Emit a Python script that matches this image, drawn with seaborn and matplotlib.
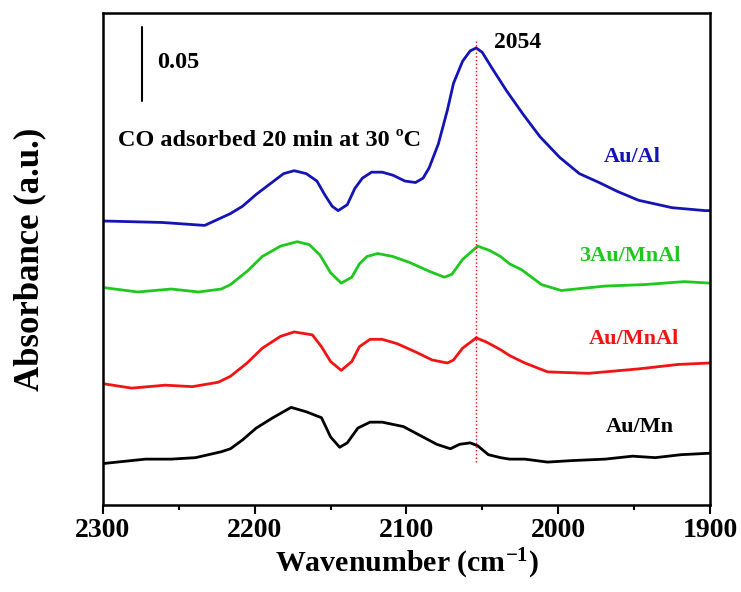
import numpy as np
import pandas as pd
import seaborn as sns
import matplotlib
matplotlib.use("Agg")
import matplotlib.pyplot as plt
from matplotlib.ticker import MultipleLocator

# Spectra (wavenumber in cm-1, absorbance incl. stacking offset)
wn_al = [2300, 2261, 2233, 2216, 2208, 2199, 2190, 2181, 2174, 2166, 2159, 2154, 2149,
         2145, 2139, 2134, 2129, 2123, 2116, 2109, 2101, 2094, 2089, 2085, 2079, 2073,
         2069, 2063, 2058, 2054, 2050, 2044, 2034, 2023, 2012, 1999, 1986, 1973, 1961,
         1947, 1925, 1903, 1900]
abs_al = [0.192, 0.191, 0.189, 0.197, 0.202, 0.210, 0.217, 0.224, 0.226, 0.224, 0.219,
          0.210, 0.202, 0.199, 0.203, 0.214, 0.221, 0.225, 0.225, 0.223, 0.219, 0.218,
          0.221, 0.228, 0.244, 0.267, 0.285, 0.300, 0.307, 0.309, 0.306, 0.296, 0.280,
          0.264, 0.249, 0.235, 0.224, 0.218, 0.212, 0.206, 0.201, 0.199, 0.199]

wn_3mnal = [2300, 2277, 2255, 2237, 2222, 2216, 2205, 2195, 2183, 2172, 2164, 2157, 2150,
            2143, 2136, 2131, 2126, 2119, 2109, 2098, 2085, 2075, 2070, 2063, 2053, 2045,
            2038, 2032, 2024, 2011, 1998, 1969, 1943, 1917, 1900]
abs_3mnal = [0.147, 0.144, 0.146, 0.144, 0.146, 0.149, 0.158, 0.168, 0.175, 0.178, 0.176,
             0.169, 0.157, 0.150, 0.154, 0.163, 0.168, 0.170, 0.168, 0.164, 0.158, 0.154,
             0.156, 0.166, 0.175, 0.172, 0.168, 0.163, 0.159, 0.149, 0.145, 0.148, 0.149,
             0.151, 0.150]

wn_mnal = [2300, 2281, 2259, 2241, 2224, 2216, 2205, 2195, 2183, 2174, 2162, 2156, 2150,
           2143, 2136, 2131, 2124, 2116, 2106, 2093, 2083, 2073, 2069, 2063, 2054, 2047,
           2038, 2032, 2022, 2007, 1980, 1947, 1921, 1900]
abs_mnal = [0.082, 0.079, 0.081, 0.080, 0.083, 0.087, 0.096, 0.106, 0.114, 0.117, 0.115,
            0.107, 0.097, 0.091, 0.097, 0.107, 0.112, 0.112, 0.109, 0.103, 0.098, 0.096,
            0.098, 0.106, 0.113, 0.110, 0.105, 0.101, 0.096, 0.090, 0.089, 0.092, 0.095,
            0.096]

wn_mn = [2300, 2272, 2255, 2239, 2222, 2216, 2208, 2199, 2188, 2176, 2166, 2156, 2150,
         2144, 2139, 2132, 2124, 2116, 2102, 2091, 2080, 2071, 2065, 2058, 2053, 2046,
         2038, 2032, 2022, 2007, 1991, 1969, 1951, 1936, 1919, 1900]
abs_mn = [0.028, 0.031, 0.031, 0.032, 0.036, 0.038, 0.044, 0.052, 0.059, 0.066, 0.063,
          0.059, 0.046, 0.039, 0.042, 0.052, 0.056, 0.056, 0.053, 0.047, 0.041, 0.038,
          0.041, 0.042, 0.040, 0.034, 0.032, 0.031, 0.031, 0.029, 0.030, 0.031, 0.033,
          0.032, 0.034, 0.035]

samples = ["Au/Al", "3Au/MnAl", "Au/MnAl", "Au/Mn"]
colors = ["#1414b4", "#1ec81e", "#f01414", "#000000"]
label_pos = [(1951, 0.235), (1953, 0.168), (1950, 0.112), (1946, 0.053)]
peak_wn = 2054

sns.set_style("white")
plt.rcParams["font.family"] = ["Liberation Serif", "DejaVu Serif"]
plt.rcParams["font.weight"] = "bold"
plt.rcParams["text.color"] = "black"
plt.rcParams["axes.labelcolor"] = "black"
plt.rcParams["xtick.color"] = "black"
plt.rcParams["mathtext.fontset"] = "custom"
plt.rcParams["mathtext.rm"] = "Liberation Serif:bold"
plt.rcParams["mathtext.bf"] = "Liberation Serif:bold"
plt.rcParams["mathtext.default"] = "bf"

frames = []
for name, wn, ab in [(samples[0], wn_al, abs_al), (samples[1], wn_3mnal, abs_3mnal),
                     (samples[2], wn_mnal, abs_mnal), (samples[3], wn_mn, abs_mn)]:
    frames.append(pd.DataFrame({"wn": wn, "abs": ab, "sample": name}))
df = pd.concat(frames, ignore_index=True)

fig = plt.figure(figsize=(7.41, 5.92), dpi=100)
ax = fig.add_axes([0.139, 0.147, 0.819, 0.831])

sns.lineplot(data=df, x="wn", y="abs", hue="sample", hue_order=samples,
             palette=colors, linewidth=2.0, legend=False, ax=ax, sort=False)

ax.set_xlim(2300, 1900)
ax.set_ylim(0, 0.3326)

# marker line at the peak
ax.plot([peak_wn, peak_wn], [0.029, 0.314], color="red", linestyle=":", linewidth=1.0)
ax.text(2042, 0.313, str(peak_wn), fontsize=17, fontweight="bold", va="center", ha="left",
        color="black")

# scale bar
ax.plot([2274.3, 2274.3], [0.273, 0.323], color="black", linewidth=1.5)
ax.text(2264, 0.2994, "0.05", fontsize=17.5, fontweight="bold", va="center", ha="left",
        color="black")
ax.text(2290, 0.2467, "CO adsorbed 20 min at 30 ºC", fontsize=17.5, fontweight="bold",
        va="center", ha="left", color="black")

for name, c, (x, y) in zip(samples, colors, label_pos):
    ax.text(x, y, name, color=c, fontsize=16, fontweight="bold", ha="center", va="center")

ax.set_xlabel("Wavenumber (cm$^{-1}$)", fontsize=21.5, fontweight="bold", labelpad=3,
              color="black")
ax.set_ylabel("Absorbance (a.u.)", fontsize=25, fontweight="bold", color="black")
ax.yaxis.set_label_coords(-0.093, 0.5)

ax.xaxis.set_major_locator(MultipleLocator(100))
ax.xaxis.set_minor_locator(MultipleLocator(50))
ax.tick_params(axis="x", which="major", direction="out", length=6.5, width=1.5,
               labelsize=20, pad=3, bottom=True, colors="black")
ax.tick_params(axis="x", which="minor", direction="out", length=3.5, width=1.5,
               bottom=True, colors="black")
ax.tick_params(axis="y", left=False, labelleft=False)
for lab in ax.get_xticklabels():
    lab.set_fontweight("bold")
for sp in ax.spines.values():
    sp.set_linewidth(1.8)
    sp.set_color("black")

fig.savefig("out.png", dpi=100)
